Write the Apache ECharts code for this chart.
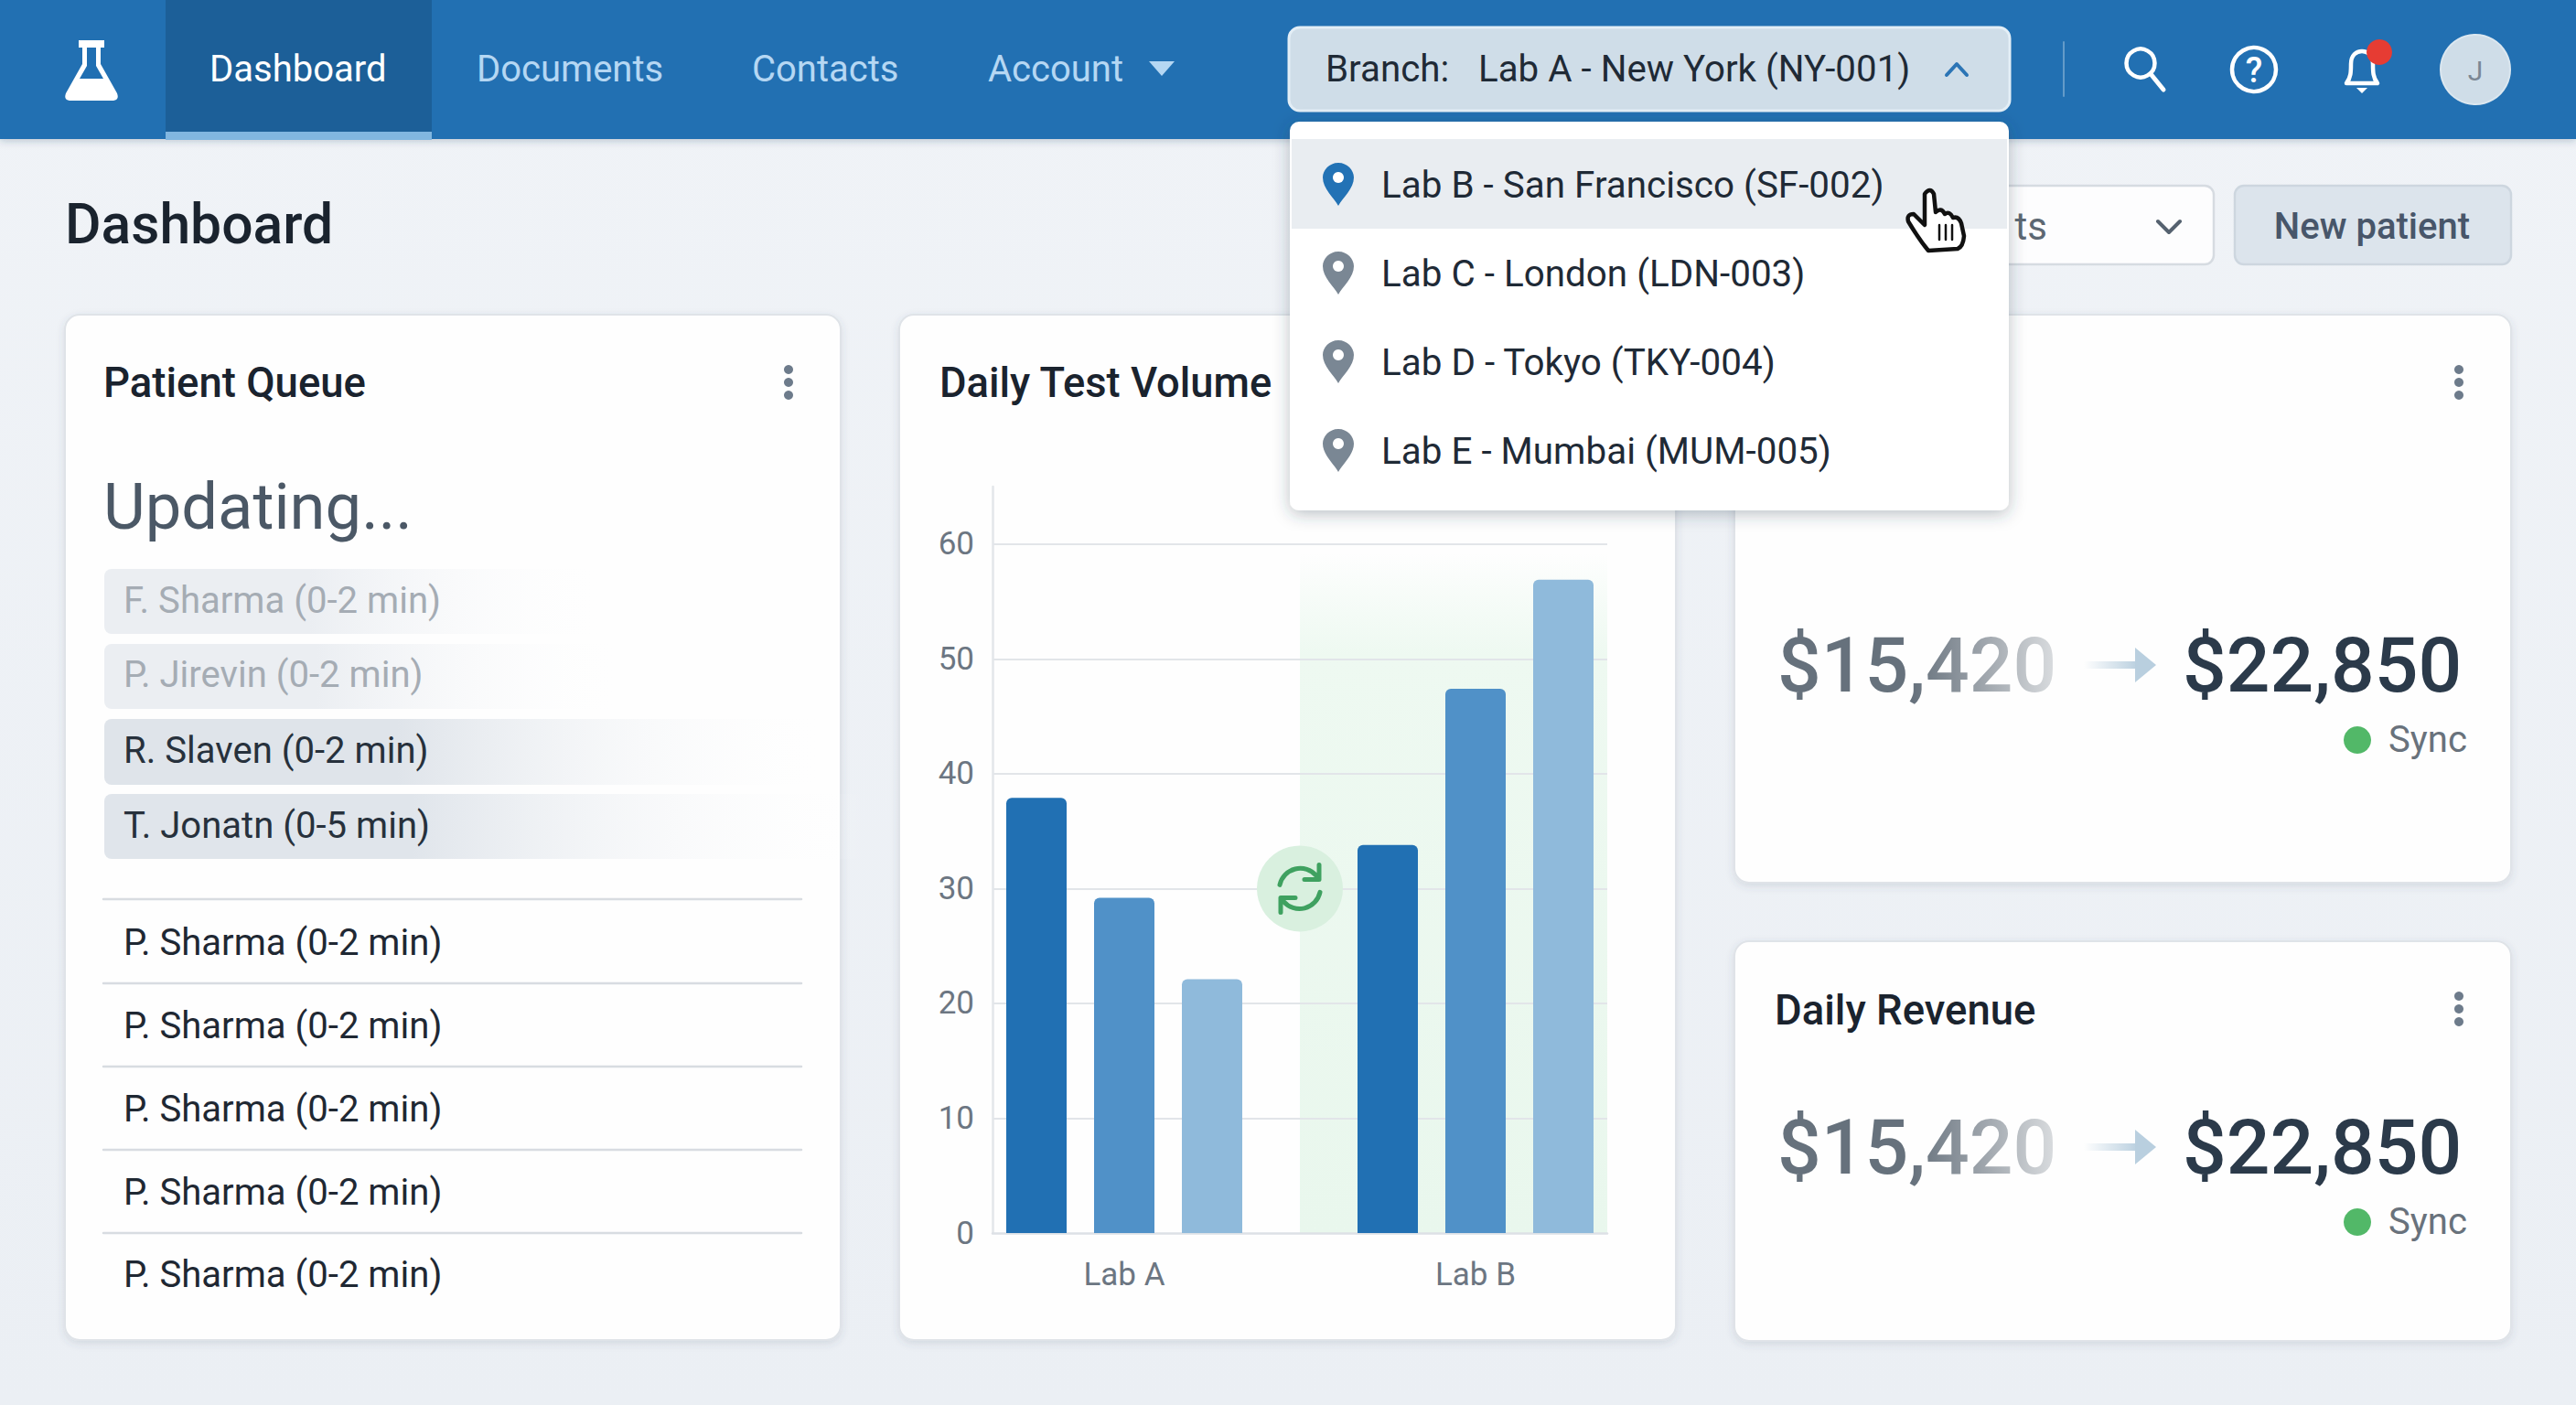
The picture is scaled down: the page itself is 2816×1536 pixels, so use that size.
<!DOCTYPE html>
<html><head><meta charset="utf-8">
<style>html,body{margin:0;padding:0;background:#eef2f6}#c{width:2816px;height:1536px}</style>
<script src="https://cdn.jsdelivr.net/npm/echarts@6/dist/echarts.min.js"></script>
</head><body><div id="c"></div>
<script>
// ---- data ----
const labs = ['Lab A', 'Lab B'];
const volumeDark = [37.9, 33.8];
const volumeMid = [29.2, 47.4];
const volumeLight = [22.1, 56.9];
const yAxisMin = 0, yAxisMax = 65, yAxisStep = 10;
const navItems = ['Dashboard', 'Documents', 'Contacts', 'Account'];
const branchCurrent = 'Lab A - New York (NY-001)';
const branchOptions = ['Lab B - San Francisco (SF-002)', 'Lab C - London (LDN-003)', 'Lab D - Tokyo (TKY-004)', 'Lab E - Mumbai (MUM-005)'];
const queueFading = ['F. Sharma (0-2 min)', 'P. Jirevin (0-2 min)'];
const queueActive = ['R. Slaven (0-2 min)', 'T. Jonatn (0-5 min)'];
const queueList = ['P. Sharma (0-2 min)', 'P. Sharma (0-2 min)', 'P. Sharma (0-2 min)', 'P. Sharma (0-2 min)', 'P. Sharma (0-2 min)'];
const revenueFrom = '$15,420', revenueTo = '$22,850';

// ---- slots: three bars for each lab, one empty slot between the labs ----
const xSlots = [labs[0] + ' 1', labs[0], labs[0] + ' 3', 'gap', labs[1] + ' 1', labs[1], labs[1] + ' 3'];
const inSlots = (vals, off) => xSlots.map((_, i) => i === off ? vals[0] : i === off + 4 ? vals[1] : null);

const FONT = 'Roboto';
const BODY = 40.1;
const LG = (stops, x2 = 1, y2 = 0) => new echarts.graphic.LinearGradient(0, 0, x2, y2, stops.map(([offset, color]) => ({ offset, color })));
const text = (t, x, y, size, fill, weight = 400, align = 'left', z = 20) => ({ type: 'text', z, silent: true, style: { text: t, x, y, font: `${weight} ${size}px ${FONT}`, fill, align, verticalAlign: 'middle' } });
const rect = (x, y, w, h, r, style, z = 0) => ({ type: 'rect', z, silent: true, shape: { x, y, width: w, height: h, r }, style });
const circle = (cx, cy, r, style, z = 20) => ({ type: 'circle', z, silent: true, shape: { cx, cy, r }, style });
const line = (x1, y1, x2, y2, stroke, lineWidth = 2, z = 5) => ({ type: 'line', z, silent: true, shape: { x1, y1, x2, y2 }, style: { stroke, lineWidth, lineCap: 'round' } });
let shapeCount = 0;
const path = (d, style, z = 20, x = 0, y = 0) => {
  const name = 'uiPath' + (shapeCount++);
  echarts.graphic.registerShape(name, echarts.graphic.extendPath(d, {}));
  return { type: name, z, silent: true, x, y, style };
};
const kebab = (x, y) => [-14, 0, 14].map(o => circle(x, y + o, 5, { fill: '#6d7b8b' }, 5));

const CARD = { fill: '#fefefe', stroke: '#dfe3e8', lineWidth: 2, shadowBlur: 8, shadowOffsetY: 3, shadowColor: 'rgba(60,80,100,0.14)' };
const PIN = 'M0,-23 C-10,-23 -17,-15 -17,-7 C-17,5 -5,15 0,24 C5,15 17,5 17,-7 C17,-15 10,-23 0,-23 Z';

function chrome(chart) {
  const px0 = chart.convertToPixel({ xAxisIndex: 0 }, xSlots.indexOf('gap'));
  const pyTop = chart.convertToPixel({ yAxisIndex: 0 }, 60);
  const pyBase = chart.convertToPixel({ yAxisIndex: 0 }, 0);
  const py30 = chart.convertToPixel({ yAxisIndex: 0 }, 30);
  const els = [];
  // page
  els.push(rect(0, 0, 2816, 1536, 0, { fill: LG([[0, '#f0f3f7'], [1, '#ebeff4']], 0, 1) }, -30));
  // cards
  [[71, 344, 848, 1121], [983, 344, 849, 1121], [1896, 344, 849, 621], [1896, 1029, 849, 437]].forEach(c => els.push(rect(c[0], c[1], c[2], c[3], 16, CARD, -20)));

  // header
  els.push(rect(0, 0, 2816, 152, 0, { fill: '#206fb2', shadowBlur: 8, shadowOffsetY: 2, shadowColor: 'rgba(30,60,90,0.25)' }, 10));
  els.push(rect(181, 0, 291, 144, 0, { fill: '#1c5f98' }, 11));
  els.push(rect(181, 144, 291, 9, 0, { fill: '#81b6e0' }, 11));
  els.push(path('M86,44 H114 V52 H110 V70 L128,102 Q131,110 122,110 H78 Q69,110 72,102 L90,70 V52 H86 Z', { fill: '#ffffff' }, 12));
  els.push(path('M95,52 H105 V72 L113,86 H87 L95,72 Z', { fill: '#206fb2' }, 13));
  const navX = [229, 521, 822, 1080];
  navItems.forEach((n, i) => els.push(text(n, navX[i], 75, 40, i === 0 ? '#ffffff' : '#b5d7f3', 400, 'left', 12)));
  els.push(path('M1256,67 H1284 L1270,83 Z', { fill: '#b5d7f3' }, 12));

  // branch selector
  els.push(rect(1409, 30, 788, 91, 12, { fill: '#cfdde8', stroke: '#e3eef6', lineWidth: 3 }, 12));
  els.push(text('Branch:', 1449, 75, 40.3, '#1f2a36', 400, 'left', 13));
  els.push(text(branchCurrent, 1616, 75, 40.3, '#1f2a36', 400, 'left', 13));
  els.push(path('M2128,82 L2139,70 L2150,82', { fill: 'none', stroke: '#2b74b5', lineWidth: 4, lineCap: 'round', lineJoin: 'round' }, 13));
  els.push(line(2256, 46, 2256, 105, 'rgba(255,255,255,0.3)', 2, 12));
  // header icons
  els.push(circle(2340, 69, 15.5, { fill: 'none', stroke: '#fff', lineWidth: 4.5 }, 12));
  els.push(line(2352, 82, 2365, 98, '#fff', 5, 12));
  els.push(circle(2464, 76, 24, { fill: 'none', stroke: '#fff', lineWidth: 4.5 }, 12));
  els.push(text('?', 2464, 77, 38, '#fff', 500, 'center', 12));
  els.push(path('M2565,91 C2570,85 2570,78 2570,70 C2570,60 2576,56 2582,56 C2588,56 2594,60 2594,70 C2594,78 2594,85 2599,91 Z', { fill: 'none', stroke: '#fff', lineWidth: 4.5, lineJoin: 'round' }, 12));
  els.push(path('M2576,96 H2588 L2582,102 Z', { fill: '#fff' }, 12));
  els.push(circle(2601, 57, 14, { fill: '#e63c33' }, 13));
  els.push(circle(2706, 76, 38, { fill: '#cfdde8', stroke: '#dbe7f0', lineWidth: 2 }, 12));
  els.push(text('J', 2706, 77, 30, '#7b8794', 400, 'center', 13));

  // page heading + toolbar
  els.push(text('Dashboard', 71, 245, 60.6, '#1a232e', 500, 'left', 5));
  els.push(rect(1900, 203, 520, 86, 10, { fill: '#fdfdfe', stroke: '#d6dbe1', lineWidth: 2.5 }, 2));
  els.push(text('ts', 2238, 247, 42, '#5d6873', 400, 'right', 5));
  els.push(path('M2359,242 L2371,254 L2383,242', { fill: 'none', stroke: '#566270', lineWidth: 4, lineCap: 'round', lineJoin: 'round' }, 5));
  els.push(rect(2443, 203, 302, 86, 10, { fill: '#dce4ec', stroke: '#cdd6df', lineWidth: 2.5 }, 2));
  els.push(text('New patient', 2593, 247, BODY, '#48566a', 500, 'center', 5));

  // patient queue
  els.push(text('Patient Queue', 113, 418, 45.5, '#1a232e', 500, 'left', 5));
  els.push(...kebab(862, 418));
  els.push(text('Updating...', 113, 554, 70.5, '#4b5866', 400, 'left', 5));
  [[622, 71, 560, '#ebeef2'], [704, 71, 580, '#ebeef2'], [786, 72, 800, '#dfe4ea'], [868, 71, 840, '#e0e5eb']].forEach(r =>
    els.push(rect(114, r[0], r[2], r[1], 8, { fill: LG([[0, r[3]], [0.4, r[3]], [1, 'rgba(255,255,255,0)']]) }, 1)));
  queueFading.forEach((t, i) => els.push(text(t, 135, [656, 737][i], BODY, '#a5acb4', 400, 'left', 5)));
  queueActive.forEach((t, i) => els.push(text(t, 135, [820, 902][i], BODY, '#27313c', 400, 'left', 5)));
  [983, 1075, 1166, 1257, 1348].forEach(y => els.push(line(113, y, 876, y, '#d8dce1', 2.5, 1)));
  queueList.forEach((t, i) => els.push(text(t, 135, [1030, 1121, 1212, 1303, 1393][i], BODY, '#1f2833', 400, 'left', 5)));

  // test volume
  els.push(text('Daily Test Volume', 1027, 418, 45.3, '#1a232e', 500, 'left', 5));
  els.push(rect(px0, pyTop + 10, 1757 - px0, pyBase - pyTop - 10, 0, { fill: LG([[0, 'rgba(236,249,240,0)'], [0.15, '#eef9f1'], [1, '#e9f7ed']], 0, 1) }, -1));
  els.push(circle(px0, py30, 47, { fill: '#d9f0df' }, 4));
  els.push(path('M-22,-4 A23,23 0 0 1 18,-14 M21,-26 L21,-10 L5,-10 M22,4 A23,23 0 0 1 -18,14 M-21,26 L-21,10 L-5,10', { fill: 'none', stroke: '#3fa160', lineWidth: 5, lineJoin: 'round', lineCap: 'round' }, 5, px0, py30));

  // revenue cards
  els.push(...kebab(2688, 418));
  els.push(text('Daily Revenue', 1940, 1104, 45.5, '#1a232e', 500, 'left', 5));
  els.push(...kebab(2688, 1103));
  [727, 1254].forEach(y => {
    els.push(text(revenueFrom, 1943, y, 84, '#66717c', 500, 'left', 5));
    els.push(rect(2090, y - 50, 165, 100, 0, { fill: LG([[0, 'rgba(254,254,254,0)'], [0.45, 'rgba(254,254,254,0.35)'], [1, 'rgba(254,254,254,0.8)']]) }, 6));
    els.push(text(revenueTo, 2386, y, 84, '#2b3a4a', 500, 'left', 5));
    els.push(rect(2278, y - 4, 60, 8, 0, { fill: LG([[0, 'rgba(185,207,223,0)'], [1, '#b9cfdf']]) }, 5));
    els.push(path(`M2334,${y - 19} L2357,${y} L2334,${y + 19} Z`, { fill: '#b9cfdf' }, 5));
    els.push(circle(2577, y + 82, 15, { fill: '#52b868' }, 5));
    els.push(text('Sync', 2611, y + 81, BODY, '#69727c', 400, 'left', 5));
  });

  // branch dropdown (sits over the chart)
  els.push(rect(1410, 133, 786, 425, 10, { fill: '#ffffff', shadowBlur: 18, shadowOffsetY: 4, shadowColor: 'rgba(40,60,80,0.32)' }, 30));
  els.push(rect(1412, 152, 782, 98, 0, { fill: '#e9edf1' }, 31));
  branchOptions.forEach((t, i) => {
    const y = [201, 298, 395, 492][i];
    els.push(path(PIN, { fill: i === 0 ? '#2272b5' : '#7a8794' }, 32, 1463, y));
    els.push(circle(1463, y - 7, 6, { fill: '#ffffff' }, 33));
    els.push(text(t, 1510, y + 1, 40.4, '#1f2a36', 400, 'left', 33));
  });
  // pointer
  els.push(path('M2104,212 Q2110,204 2114,212 L2116,232 Q2122,226 2126,234 Q2131,230 2135,238 Q2141,236 2144,244 L2147,258 Q2146,270 2140,272 L2108,274 Q2098,262 2086,242 Q2084,234 2092,234 L2104,246 Z', { fill: '#ffffff', stroke: '#111', lineWidth: 4.5, lineJoin: 'round' }, 40));
  [2120, 2127, 2134].forEach(x => els.push(line(x, 246, x, 262, '#111', 2.5, 41)));
  return els;
}

const chart = echarts.init(document.getElementById('c'), null, { renderer: 'svg', width: 2816, height: 1536 });
const barStyle = c => ({ color: c, borderRadius: [6, 6, 0, 0] });
chart.setOption({
  animation: false,
  backgroundColor: '#eef2f6',
  grid: { left: 1085, top: 532, width: 672, height: 816, containLabel: false },
  xAxis: {
    type: 'category', data: xSlots,
    axisTick: { show: false },
    axisLine: { lineStyle: { color: '#dde1e6', width: 2.5 } },
    axisLabel: { interval: 0, margin: 28, fontFamily: FONT, fontSize: 35, color: '#6c7682', formatter: v => labs.includes(v) ? v : '' }
  },
  yAxis: {
    type: 'value', min: yAxisMin, max: yAxisMax, interval: yAxisStep,
    axisTick: { show: false },
    axisLine: { show: true, lineStyle: { color: '#e3e6ea', width: 2.5 } },
    axisLabel: { margin: 20, fontFamily: FONT, fontSize: 35, color: '#6c7682', showMaxLabel: false },
    splitLine: { showMaxLine: false, showMinLine: false, lineStyle: { color: '#e2e5e9', width: 2 } }
  },
  series: [
    { name: 'Dark', type: 'bar', data: inSlots(volumeDark, 0), barWidth: 66, barGap: '-100%', itemStyle: barStyle('#2170b3') },
    { name: 'Mid', type: 'bar', data: inSlots(volumeMid, 1), barWidth: 66, barGap: '-100%', itemStyle: barStyle('#5091c8') },
    { name: 'Light', type: 'bar', data: inSlots(volumeLight, 2), barWidth: 66, barGap: '-100%', itemStyle: barStyle('#8fbadb') }
  ]
});
chart.setOption({ graphic: { elements: chrome(chart) } });
</script></body></html>
